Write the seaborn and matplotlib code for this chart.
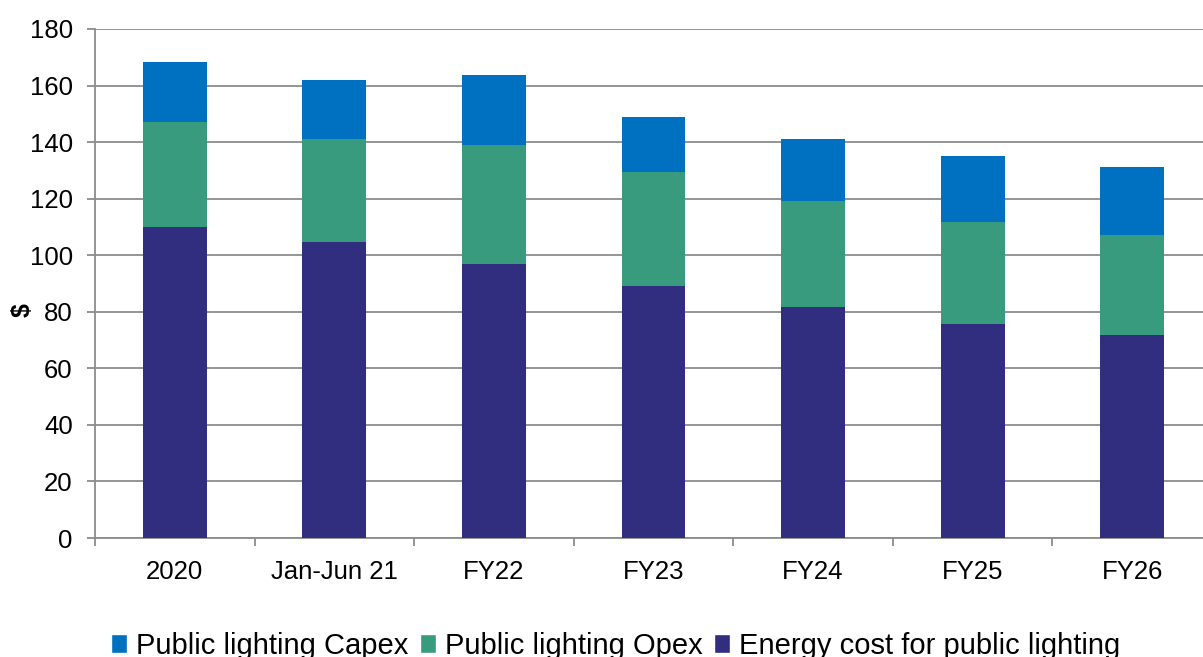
import numpy as np
import pandas as pd
import matplotlib
matplotlib.use("Agg")
import matplotlib.pyplot as plt
from matplotlib.patches import Patch
import seaborn as sns

categories = ["2020", "Jan-Jun 21", "FY22", "FY23", "FY24", "FY25", "FY26"]
energy_cost = [110.0, 104.7, 96.9, 89.2, 81.8, 75.7, 71.8]
lighting_opex = [37.1, 36.4, 42.1, 40.2, 37.4, 35.9, 35.3]
lighting_capex = [21.2, 20.7, 24.7, 19.6, 21.8, 23.4, 24.1]
y_ticks = [0, 20, 40, 60, 80, 100, 120, 140, 160, 180]

c_capex = "#0070C0"
c_opex = "#389B7E"
c_energy = "#312E80"
grid_c = "#8C8C8C"

sns.set_theme(style="white")
plt.rcParams["font.family"] = ["Liberation Sans", "DejaVu Sans"]
plt.rcParams["text.color"] = "black"
plt.rcParams["axes.labelcolor"] = "black"

df = pd.DataFrame({
    "category": categories,
    "energy": energy_cost,
    "opex": lighting_opex,
    "capex": lighting_capex,
})
df["lvl_energy"] = df["energy"]
df["lvl_opex"] = df["energy"] + df["opex"]
df["lvl_capex"] = df["lvl_opex"] + df["capex"]

fig = plt.figure(figsize=(12.03, 6.57), dpi=100)
ax = fig.add_axes([0.079, 0.1811, 0.9285, 0.7748])

for col, color in [("lvl_capex", c_capex), ("lvl_opex", c_opex), ("lvl_energy", c_energy)]:
    sns.barplot(data=df, x="category", y=col, color=color, width=0.4,
                saturation=1, ax=ax, zorder=3, linewidth=0)

ax.set_xlim(-0.5, len(categories) - 0.5)
ax.set_ylim(0, 180)
ax.set_yticks(y_ticks)
ax.yaxis.grid(True, color=grid_c, linewidth=1.3, zorder=0)
ax.xaxis.grid(False)
ax.set_axisbelow(True)

for side in ["top", "right"]:
    ax.spines[side].set_visible(False)
for side in ["left", "bottom"]:
    ax.spines[side].set_color(grid_c)
    ax.spines[side].set_linewidth(1.3)

ax.tick_params(axis="y", which="major", left=True, length=6, width=1.3,
               color=grid_c, labelsize=18.5, pad=10, labelcolor="black")
ax.tick_params(axis="x", which="major", bottom=False, labelsize=18.5,
               pad=10, labelcolor="black")
ax.set_xticks(np.arange(-0.5, len(categories), 1.0), minor=True)
ax.tick_params(axis="x", which="minor", bottom=True, length=6, width=1.3,
               color=grid_c)

ax.set_xlabel("")
ax.set_ylabel("$", fontsize=18, fontweight="bold", labelpad=2)
ax.yaxis.set_label_coords(-0.054, 0.448)

handles = [Patch(facecolor=c_capex, label="Public lighting Capex"),
           Patch(facecolor=c_opex, label="Public lighting Opex"),
           Patch(facecolor=c_energy, label="Energy cost for public lighting")]
fig.legend(handles=handles, loc="center", bbox_to_anchor=(0.512, 0.017),
           ncol=3, frameon=False, fontsize=21, handlelength=0.55,
           handleheight=0.65, handletextpad=0.3, columnspacing=0.4,
           labelcolor="black")

fig.savefig("out.png", dpi=100)
